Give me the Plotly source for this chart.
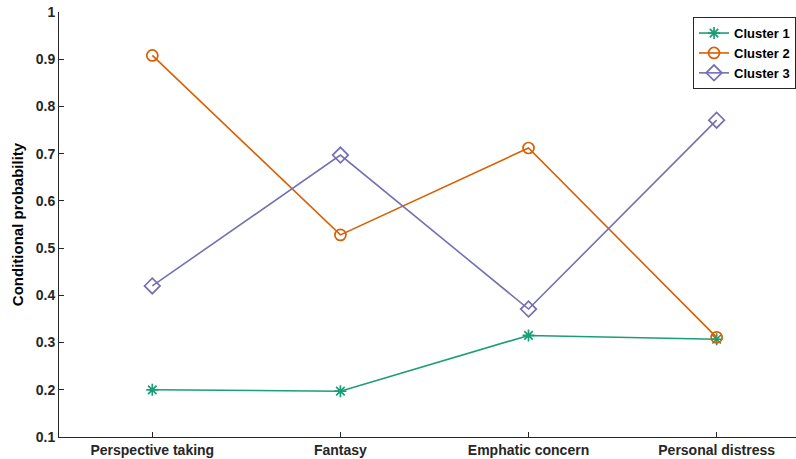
import plotly.graph_objects as go

categories = ["Perspective taking", "Fantasy", "Emphatic concern", "Personal distress"]
cluster1 = [0.200, 0.197, 0.315, 0.307]
cluster2 = [0.908, 0.528, 0.712, 0.311]
cluster3 = [0.420, 0.697, 0.371, 0.771]
series_names = ["Cluster 1", "Cluster 2", "Cluster 3"]
y_ticks = [0.1, 0.2, 0.3, 0.4, 0.5, 0.6, 0.7, 0.8, 0.9, 1]

colors = ["#1b9e77", "#d95f02", "#7570b3"]
symbols = ["asterisk-open", "circle-open", "diamond-open"]
sizes = [10, 11, 12]

fig = go.Figure()
xs = list(range(len(categories)))
for name, vals, c, s, sz in zip(series_names, [cluster1, cluster2, cluster3], colors, symbols, sizes):
    fig.add_trace(go.Scatter(
        x=xs, y=vals, name=name, mode="lines+markers",
        line=dict(color=c, width=1.6),
        marker=dict(symbol=s, size=sz, color=c, line=dict(color=c, width=1.7)),
    ))

font_color = "#262626"
fam = "Liberation Sans, Arial"
fig.update_layout(
    width=796, height=459,
    margin=dict(l=59, r=0, t=11.5, b=21.7, autoexpand=False),
    plot_bgcolor="white", paper_bgcolor="white",
    font=dict(family=fam, size=13, color=font_color),
    showlegend=True,
    legend=dict(
        x=1, xanchor="right", y=0.988, yanchor="top",
        bgcolor="white", bordercolor=font_color, borderwidth=1,
        font=dict(family=fam, size=13, color="#000000", weight="bold"),
        tracegroupgap=0, itemwidth=30,
    ),
)
fig.update_xaxes(
    range=[-0.496, 3.422], tickmode="array", tickvals=xs, ticktext=categories,
    showgrid=False, zeroline=False, showline=True, linecolor=font_color, linewidth=1,
    ticks="inside", ticklen=5, tickcolor=font_color, tickwidth=1,
    tickfont=dict(family=fam, size=14, color=font_color, weight="bold"),
    automargin=False,
)
fig.update_yaxes(
    range=[0.1, 1.0], tickmode="array", tickvals=y_ticks,
    ticktext=["0.1", "0.2", "0.3", "0.4", "0.5", "0.6", "0.7", "0.8", "0.9", "1"],
    showgrid=False, zeroline=False, showline=True, linecolor=font_color, linewidth=1,
    ticks="inside", ticklen=5, tickcolor=font_color, tickwidth=1,
    tickfont=dict(family=fam, size=14, color=font_color, weight="bold"),
    title=dict(text="Conditional probability", standoff=8,
               font=dict(family=fam, size=15, color="#000000", weight="bold")),
    automargin=False,
)

fig.write_html("out.html")
